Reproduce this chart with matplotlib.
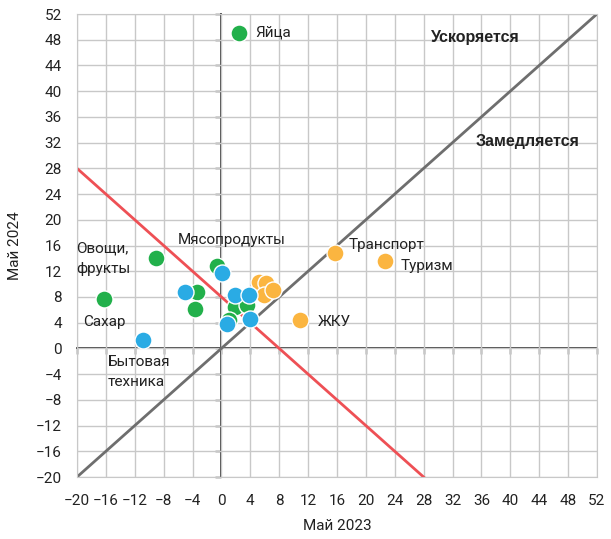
import matplotlib
matplotlib.use("Agg")
import matplotlib.pyplot as plt

plt.rcParams['font.family'] = ['Roboto', 'DejaVu Sans']

# data: May 2023 (x) vs May 2024 (y), %
green_x = [2.4, -9.0, -16.3, -0.6, -3.4, -3.6, 1.9, 3.6, 1.0]
green_y = [49.1, 14.0, 7.7, 12.8, 8.7, 6.1, 6.5, 6.7, 4.4]
orange_x = [15.7, 22.7, 10.9, 5.2, 6.2, 5.9, 7.2]
orange_y = [14.8, 13.6, 4.4, 10.4, 10.2, 8.3, 9.1]
blue_x = [-10.8, 0.1, -5.1, 1.85, 3.8, 0.8, 3.9]
blue_y = [1.3, 11.8, 8.8, 8.3, 8.3, 3.8, 4.6]

ticks = list(range(-20, 53, 4))

labels = ['Яйца', 'Транспорт', 'Туризм', 'ЖКУ', 'Мясопродукты',
          'Овощи,\nфрукты', 'Сахар', 'Бытовая\nтехника']
label_x = [4.7, 17.6, 24.8, 13.4, -6.0, -20.1, -19.1, -15.7]
label_y = [49.2, 16.1, 12.8, 4.1, 16.9, 14.0, 4.1, -3.7]

fig = plt.figure(figsize=(6.11, 5.39), dpi=100)
ax = fig.add_axes([0.126, 0.115, 0.851, 0.859])
ax.set_xlim(-20, 52)
ax.set_ylim(-20, 52)
ax.set_xticks(ticks)
ax.set_yticks(ticks)
ax.grid(True, color='#c8c8c8', lw=1)
ax.set_axisbelow(True)
for s in ax.spines.values():
    s.set_color('#c8c8c8')
ax.tick_params(length=0, labelsize=11, colors='#222222')
ax.tick_params(axis='x', pad=12)
ax.tick_params(axis='y', pad=11)

# diagonal lines
ax.plot([-20, 52], [-20, 52], color='#6e6e6e', lw=2, zorder=2)
ax.plot([-20, 28], [28, -20], color='#ee5055', lw=2, zorder=2)

# zero axes with ticks
for sec in [ax.secondary_xaxis(20 / 72), ax.secondary_yaxis(20 / 72)]:
    sec.set_ticks(ticks)
    sec.tick_params(direction='out', length=4, width=1, colors='#222222',
                    labelbottom=False, labelleft=False, labeltop=False, labelright=False)
    for s in sec.spines.values():
        s.set_color('#222222')
        s.set_linewidth(1.2)

ms = 150
ax.scatter(green_x, green_y, s=ms, color='#22b04b', edgecolor='white', lw=1, zorder=4)
ax.scatter(orange_x, orange_y, s=ms, color='#fbb540', edgecolor='white', lw=1, zorder=4)
ax.scatter(blue_x, blue_y, s=ms, color='#2aabe4', edgecolor='white', lw=1, zorder=5)

for t, x, y in zip(labels, label_x, label_y):
    ax.text(x, y, t, fontsize=11, color='#222222', ha='left', va='center',
            linespacing=1.6, zorder=6)

ax.text(35.2, 48.3, 'Ускоряется', fontsize=11.5, fontweight='bold',
        family=['Liberation Sans', 'DejaVu Sans'], ha='center', va='center', color='#222222')
ax.text(42.4, 32.1, 'Замедляется', fontsize=11.5, fontweight='bold',
        family=['Liberation Sans', 'DejaVu Sans'], ha='center', va='center', color='#222222')

ax.set_xlabel('Май 2023', fontsize=11, color='#222222', labelpad=8)
ax.set_ylabel('Май 2024', fontsize=11, color='#222222', labelpad=10)

fig.savefig('out.png', dpi=100)
